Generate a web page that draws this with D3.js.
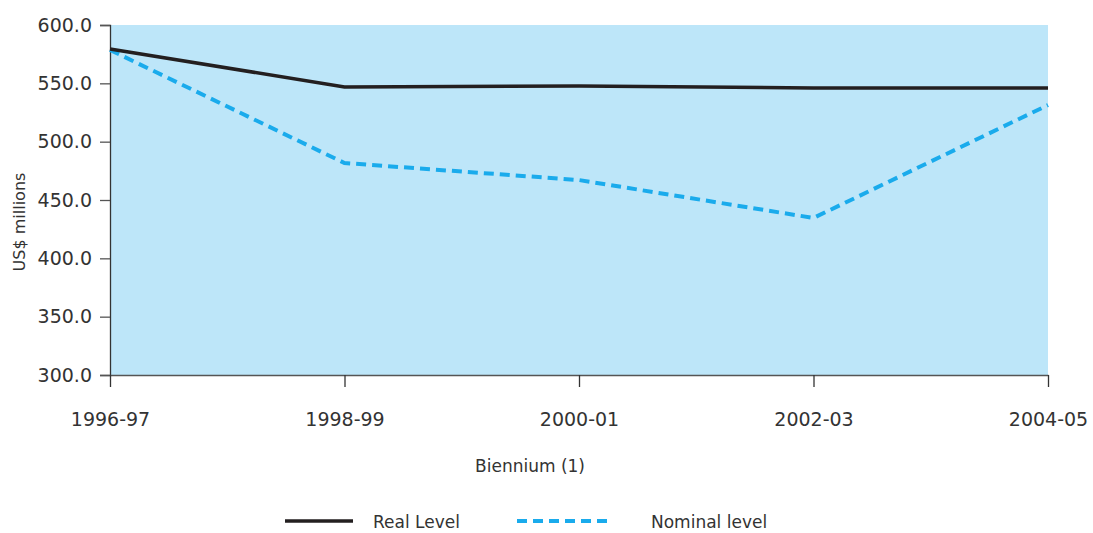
<!DOCTYPE html>
<html>
<head>
<meta charset="utf-8">
<script src="https://cdn.jsdelivr.net/npm/d3@7"></script>
<style>
  body { margin: 0; background: #fff; }
  text { font-family: "DejaVu Sans", sans-serif; fill: #333; }
</style>
</head>
<body>
<script>
const biennia = ["1996-97", "1998-99", "2000-01", "2002-03", "2004-05"];
const realLevel = [579.4, 546.9, 547.7, 546.0, 546.0];
const nominalLevel = [578.6, 481.7, 467.1, 434.6, 531.4];
const yTicks = [300, 350, 400, 450, 500, 550, 600];

const W = 1093, H = 533;
const margin = { top: 25, right: 45, bottom: 158, left: 110 };
const width = W - margin.left - margin.right;
const height = H - margin.top - margin.bottom;

const svg = d3.select("body").append("svg")
    .attr("width", W).attr("height", H);
const g = svg.append("g")
    .attr("transform", `translate(${margin.left},${margin.top})`);

const x = d3.scalePoint().domain(biennia).range([0, width]);
const y = d3.scaleLinear().domain([300, 600]).range([height, 0]);

// plot background
g.append("rect")
    .attr("width", width).attr("height", height)
    .attr("fill", "#bde6f9");

// Y axis
const yAxis = g.append("g")
    .call(d3.axisLeft(y).tickValues(yTicks).tickFormat(d3.format(".1f")).tickSize(10).tickPadding(8));
yAxis.select(".domain").attr("stroke", "#333").attr("stroke-width", 1.3);
yAxis.selectAll(".tick line").attr("stroke", "#555").attr("stroke-width", 1.3);
yAxis.selectAll("text").style("font-size", "19px").attr("fill", "#333");

// X axis
const xAxis = g.append("g")
    .attr("transform", `translate(0,${height})`)
    .call(d3.axisBottom(x).tickSize(12).tickPadding(26).tickSizeOuter(0));
xAxis.select(".domain").attr("stroke", "#555").attr("stroke-width", 1.3);
xAxis.selectAll(".tick line").attr("stroke", "#333").attr("stroke-width", 1.3);
xAxis.selectAll("text").style("font-size", "19px").attr("fill", "#333");

// lines
const line = d3.line().x((d, i) => x(biennia[i])).y(d => y(d));

g.append("path")
    .datum(nominalLevel)
    .attr("d", line)
    .attr("fill", "none")
    .attr("stroke", "#1aabec")
    .attr("stroke-width", 4)
    .attr("stroke-dasharray", "10,6");

g.append("path")
    .datum(realLevel)
    .attr("d", line)
    .attr("fill", "none")
    .attr("stroke", "#231f20")
    .attr("stroke-width", 3.5);

// axis titles
svg.append("text")
    .attr("x", 530)
    .attr("y", 472)
    .attr("text-anchor", "middle")
    .style("font-size", "17px")
    .text("Biennium (1)");

svg.append("text")
    .attr("transform", `translate(25,222) rotate(-90)`)
    .attr("text-anchor", "middle")
    .style("font-size", "16px")
    .text("US$ millions");

// legend
const legendItems = [
    { name: "Real Level", x1: 285, x2: 353, tx: 373, color: "#231f20", dash: null, w: 3.5 },
    { name: "Nominal level", x1: 517, x2: 609, tx: 651, color: "#1aabec", dash: "10,6", w: 4 }
];
legendItems.forEach(it => {
    svg.append("line")
        .attr("x1", it.x1).attr("x2", it.x2)
        .attr("y1", 521).attr("y2", 521)
        .attr("stroke", it.color)
        .attr("stroke-width", it.w)
        .attr("stroke-dasharray", it.dash);
    svg.append("text")
        .attr("x", it.tx).attr("y", 528)
        .style("font-size", "17px")
        .text(it.name);
});
</script>
</body>
</html>
